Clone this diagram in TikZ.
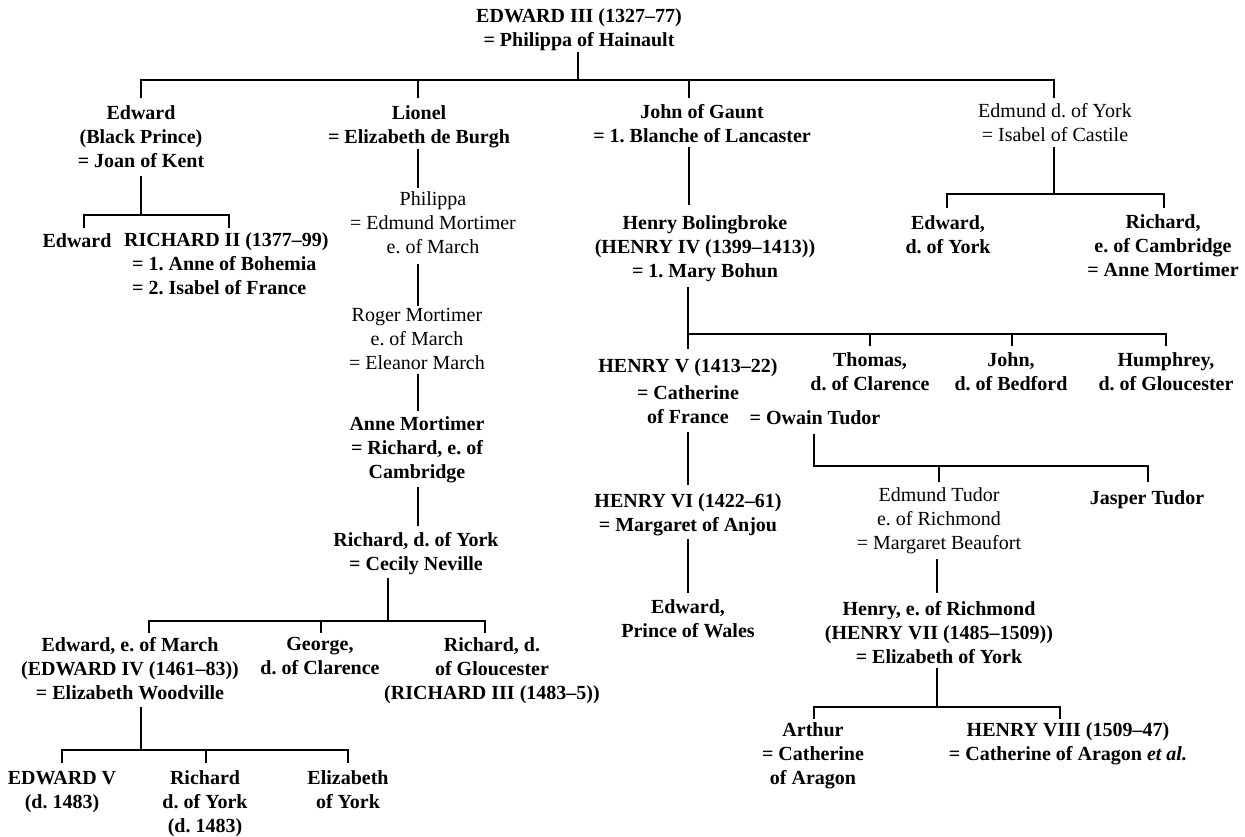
\documentclass[tikz,border=0pt]{standalone}
\usepackage{fontspec}
\setmainfont{Liberation Serif}
\frenchspacing
\begin{document}
\begin{tikzpicture}[x=1pt,y=-1pt]
\tikzset{
  bn/.style={font=\bfseries\fontsize{20}{24}\selectfont, align=center, inner sep=0pt,
             execute at begin node=\strut, execute at end node=\strut, yshift=-3pt},
  rn/.style={font=\fontsize{20}{24}\selectfont, align=center, inner sep=0pt,
             execute at begin node=\strut, execute at end node=\strut, yshift=-3pt},
  tl/.style={line width=1.8pt, line cap=rect}
}
\useasboundingbox (0,0) rectangle (1245,836);
\fill[white] (0,0) rectangle (1245,836);

% ---------- nodes ----------
\node[bn] (e3) at (579,28.5) {EDWARD III (1327–77)\\= Philippa of Hainault};
\node[bn] (bp) at (141,137) {Edward\\(Black Prince)\\= Joan of Kent};
\node[bn] (li) at (419,125) {Lionel\\= Elizabeth de Burgh};
\node[bn] (jg) at (702,124) {John of Gaunt\\= 1. Blanche of Lancaster};
\node[rn] (ey) at (1055,123) {Edmund d. of York\\= Isabel of Castile};

\node[bn] (ed) at (77,240) {Edward};
\node[bn, align=left, anchor=west] (r2) at (124,264) {RICHARD II (1377–99)\\\hspace*{8pt}= 1. Anne of Bohemia\\\hspace*{8pt}= 2. Isabel of France};

\node[rn] (ph) at (433,223) {Philippa\\= Edmund Mortimer\\e. of March};
\node[rn] (rm) at (417,339.5) {Roger Mortimer\\e. of March\\= Eleanor March};
\node[bn] (am) at (417,448.5) {Anne Mortimer\\= Richard, e. of\\Cambridge};
\node[bn] (ry) at (416,552) {Richard, d. of York\\= Cecily Neville};

\node[bn] (e4) at (130,669) {Edward, e. of March\\(EDWARD IV (1461–83))\\= Elizabeth Woodville};
\node[bn] (gc) at (320,656.5) {George,\\d. of Clarence};
\node[bn] (r3) at (492,669) {Richard, d.\\of Gloucester\\(RICHARD III (1483–5))};

\node[bn] (e5) at (62,790.5) {EDWARD V\\(d. 1483)};
\node[bn] (rd) at (205,802) {Richard\\d. of York\\(d. 1483)};
\node[bn] (el) at (348,790.5) {Elizabeth\\of York};

\node[bn] (hb) at (705,247.5) {Henry Bolingbroke\\(HENRY IV (1399–1413))\\= 1. Mary Bohun};
\node[bn] (h5) at (688,365) {HENRY V (1413–22)};
\node[bn] (th) at (870,372) {Thomas,\\d. of Clarence};
\node[bn] (jo) at (1011,372) {John,\\d. of Bedford};
\node[bn] (hu) at (1166,372) {Humphrey,\\d. of Gloucester};
\node[bn, font=\bfseries\fontsize{20}{24.5}\selectfont] (cf) at (688,405) {= Catherine\\of France};
\node[bn] (ow) at (815,417) {= Owain Tudor};

\node[bn] (h6) at (688,513.5) {HENRY VI (1422–61)\\= Margaret of Anjou};
\node[bn] (ew) at (688,619) {Edward,\\Prince of Wales};

\node[rn] (et) at (939,519.5) {Edmund Tudor\\e. of Richmond\\= Margaret Beaufort};
\node[bn] (jt) at (1147,497) {Jasper Tudor};
\node[bn] (h7) at (939,633) {Henry, e. of Richmond\\(HENRY VII (1485–1509))\\= Elizabeth of York};
\node[bn] (ar) at (813,754) {Arthur\\= Catherine\\of Aragon};
\node[bn] (h8) at (1068,742) {HENRY VIII (1509–47)\\= Catherine of Aragon \textit{et al.}};

\node[bn] (edy) at (948,235) {Edward,\\d. of York};
\node[bn] (rc) at (1163,246.5) {Richard,\\e. of Cambridge\\= Anne Mortimer};

% ---------- connectors ----------
% Edward III
\coordinate (a0) at (578,53);  \coordinate (a1) at (578,80);
\coordinate (a2) at (141,97);  \coordinate (a3) at (1054,97);
\coordinate (a4) at (418,97);  \coordinate (a5) at (689,97);
\draw[tl] (a0) -- (a1);
\draw[tl] (a2) |- (a1) -| (a3);
\draw[tl] (a4) -- (a4 |- a1);
\draw[tl] (a5) -- (a5 |- a1);

% Black Prince
\coordinate (b0) at (141,177); \coordinate (b1) at (141,215);
\coordinate (b2) at (84,227);  \coordinate (b3) at (229,227);
\draw[tl] (b0) -- (b1);
\draw[tl] (b2) |- (b1) -| (b3);

% Lionel line
\coordinate (c0) at (418,150); \coordinate (c1) at (418,187);
\coordinate (c2) at (418,265); \coordinate (c3) at (418,305);
\coordinate (c4) at (418,375); \coordinate (c5) at (418,410);
\coordinate (c6) at (418,488); \coordinate (c7) at (418,525);
\draw[tl] (c0) -- (c1);
\draw[tl] (c2) -- (c3);
\draw[tl] (c4) -- (c5);
\draw[tl] (c6) -- (c7);

% Richard d. of York
\coordinate (d0) at (388,579); \coordinate (d1) at (388,621);
\coordinate (d2) at (149,632); \coordinate (d3) at (485,632);
\coordinate (d4) at (321,632);
\draw[tl] (d0) -- (d1);
\draw[tl] (d2) |- (d1) -| (d3);
\draw[tl] (d4) -- (d4 |- d1);

% Edward IV
\coordinate (f0) at (141,708); \coordinate (f1) at (141,750);
\coordinate (f2) at (62,762);  \coordinate (f3) at (348,762);
\coordinate (f4) at (206,762);
\draw[tl] (f0) -- (f1);
\draw[tl] (f2) |- (f1) -| (f3);
\draw[tl] (f4) -- (f4 |- f1);

% John of Gaunt
\coordinate (g0) at (689,148); \coordinate (g1) at (689,204);
\draw[tl] (g0) -- (g1);

% Bolingbroke
\coordinate (q0) at (688,288); \coordinate (q1) at (688,348);
\coordinate (q2) at (688,334);
\coordinate (q3) at (870,345); \coordinate (q4) at (1012,345);
\coordinate (q5) at (1166,345);
\draw[tl] (q0) -- (q1);
\draw[tl] (q2) -| (q5);
\draw[tl] (q3) -- (q3 |- q2);
\draw[tl] (q4) -- (q4 |- q2);

% Henry V -> VI -> Edward
\coordinate (i0) at (688,433); \coordinate (i1) at (688,484);
\coordinate (i2) at (688,540); \coordinate (i3) at (688,592);
\draw[tl] (i0) -- (i1);
\draw[tl] (i2) -- (i3);

% Owain Tudor
\coordinate (k0) at (814,435); \coordinate (k1) at (814,466);
\coordinate (k2) at (939,481); \coordinate (k3) at (1148,481);
\draw[tl] (k0) -- (k1) -| (k3);
\draw[tl] (k2) -- (k2 |- k1);

% Edmund Tudor -> Henry VII
\coordinate (m0) at (937,560); \coordinate (m1) at (937,592);
\draw[tl] (m0) -- (m1);

% Henry VII
\coordinate (n0) at (937,669); \coordinate (n1) at (937,707);
\coordinate (n2) at (814,718); \coordinate (n3) at (1060,718);
\draw[tl] (n0) -- (n1);
\draw[tl] (n2) |- (n1) -| (n3);

% Edmund d. of York
\coordinate (p0) at (1054,148); \coordinate (p1) at (1054,194);
\coordinate (p2) at (947,207);  \coordinate (p3) at (1164,207);
\draw[tl] (p0) -- (p1);
\draw[tl] (p2) |- (p1) -| (p3);
\end{tikzpicture}
\end{document}
